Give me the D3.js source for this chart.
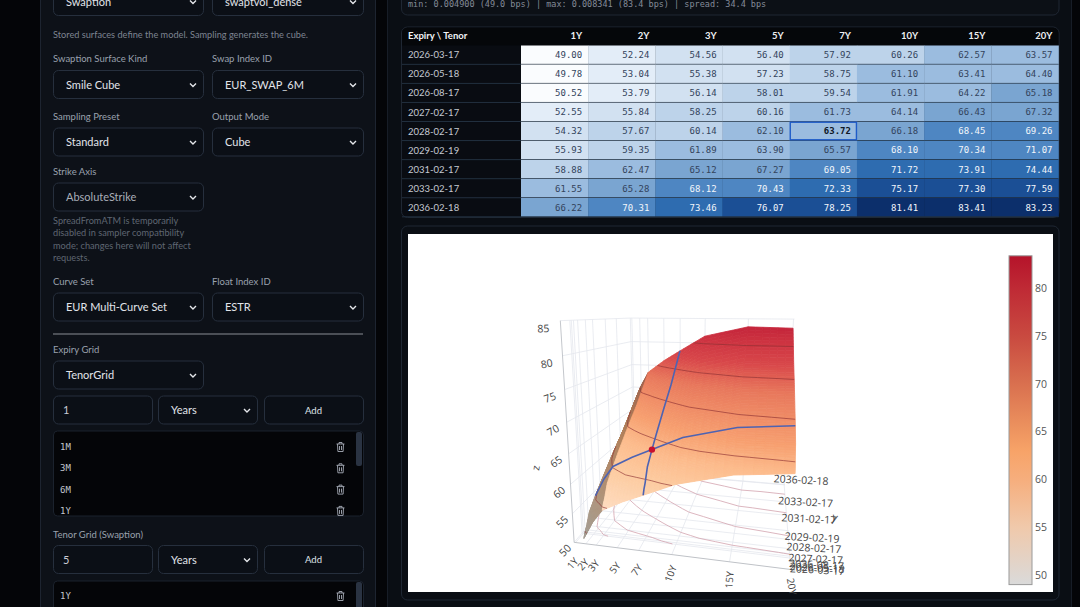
<!DOCTYPE html>
<html><head><meta charset="utf-8">
<script src="https://cdnjs.cloudflare.com/ajax/libs/d3/7.8.5/d3.min.js"></script>
<style>html,body{margin:0;padding:0;background:#040508;overflow:hidden}svg{display:block}</style>
</head><body><svg id="c" width="1080" height="607"></svg>
<script>
const tenorYears=[1,2,3,5,7,10,15,20];
const tenorLabels=["1Y","2Y","3Y","5Y","7Y","10Y","15Y","20Y"];
const expiries=["2026-03-17","2026-05-18","2026-08-17","2027-02-17","2028-02-17","2029-02-19","2031-02-17","2033-02-17","2036-02-18"];
const vols=[
[49.00,52.24,54.56,56.40,57.92,60.26,62.57,63.57],
[49.78,53.04,55.38,57.23,58.75,61.10,63.41,64.40],
[50.52,53.79,56.14,58.01,59.54,61.91,64.22,65.18],
[52.55,55.84,58.25,60.16,61.73,64.14,66.43,67.32],
[54.32,57.67,60.14,62.10,63.72,66.18,68.45,69.26],
[55.93,59.35,61.89,63.90,65.57,68.10,70.34,71.07],
[58.88,62.47,65.12,67.27,69.05,71.72,73.91,74.44],
[61.55,65.28,68.12,70.43,72.33,75.17,77.30,77.59],
[66.22,70.31,73.46,76.07,78.25,81.41,83.41,83.23]];
const zTicks=[50,55,60,65,70,75,80,85];
const barTicks=[50,55,60,65,70,75,80];
const contourLevels=[50,55,60,65,70,75,80];
const selExpiry="2028-02-17", selTenor="7Y";
const statLine="min: 0.004900 (49.0 bps) | max: 0.008341 (83.4 bps) | spread: 34.4 bps";
const expiryGridItems=["1M","3M","6M","1Y"];

const parse=d3.utcParse("%Y-%m-%d");
const dates=expiries.map(parse);
const svg=d3.select("#c");
const SANS="Lato,'Noto Sans',sans-serif", MONO="'DejaVu Sans Mono',monospace", PLOT="'Open Sans',sans-serif";

function rect(x,y,w,h,fill,stroke,r){return svg.append("rect").attr("x",x).attr("y",y).attr("width",w).attr("height",h).attr("fill",fill).attr("stroke",stroke||"none").attr("rx",r||0);}
function text(x,y,s,size,fill,opt){opt=opt||{};return svg.append("text").attr("x",x).attr("y",y).attr("dy",".35em").attr("font-family",opt.font||SANS).attr("font-size",size).attr("fill",fill).attr("font-weight",opt.weight||400).attr("text-anchor",opt.anchor||"start").text(s);}
rect(0,0,1080,607,"#040508");
rect(40.5,-20,335,650,"#0d1118","#1d2430");
rect(387.5,-20,684,650,"#0a0e14","#171d27");

function chevron(x,y){svg.append("path").attr("d",`M${x-3},${y-1.5}L${x},${y+1.5}L${x+3},${y-1.5}`).attr("fill","none").attr("stroke","#e5e7eb").attr("stroke-width",1.4);}
function selectBox(x,y,w,value,col){rect(x+.5,y+.5,w,28,"#0b0f16","#262f3d",5);text(x+13,y+15,value,11,col||"#e1e4ea");chevron(x+w-10,y+15);}
function label(x,y,s){text(x,y,s,9.5,"#9aa1ae");}
function inputBox(x,y,w,v){rect(x+.5,y+.5,w,28,"#0b0f16","#262f3d",5);text(x+10,y+15,v,11,"#c9cdd5");}
function button(x,y,w,s){rect(x+.5,y+.5,w,28,"#0b0f16","#262f3d",5);text(x+w/2,y+15,s,9.5,"#dfe2e8",{anchor:"middle"});}
function trash(x,y){const g=svg.append("g").attr("transform",`translate(${x},${y})`).attr("fill","none").attr("stroke","#a7adb8").attr("stroke-width",.9);
 g.append("path").attr("d","M-4,-3H4M-1.5,-3V-4.5H1.5V-3M-3,-3L-2.6,4.5H2.6L3,-3M-1,-1V3M1,-1V3");}
selectBox(53,-13,150,"Swaption");selectBox(212,-13,151,"swaptvol_dense");
text(53,34.5,"Stored surfaces define the model. Sampling generates the cube.",9.2,"#7d8491");
label(53,59,"Swaption Surface Kind");label(212,59,"Swap Index ID");
selectBox(53,70,150,"Smile Cube");selectBox(212,70,151,"EUR_SWAP_6M");
label(53,117,"Sampling Preset");label(212,117,"Output Mode");
selectBox(53,127.5,150,"Standard");selectBox(212,127.5,151,"Cube");
label(53,172,"Strike Axis");
selectBox(53,182.5,150,"AbsoluteStrike","#a9aeb8");
["SpreadFromATM is temporarily","disabled in sampler compatibility","mode; changes here will not affect","requests."].forEach((s,i)=>text(53,221+i*12.2,s,9.2,"#5f6672"));
label(53,282,"Curve Set");label(212,282,"Float Index ID");
selectBox(53,292.5,150,"EUR Multi-Curve Set");selectBox(212,292.5,151,"ESTR");
svg.append("line").attr("x1",53).attr("x2",363).attr("y1",334).attr("y2",334).attr("stroke","#8a8d93").attr("stroke-width",1.2);
label(53,350,"Expiry Grid");
selectBox(53,360.5,150,"TenorGrid");
inputBox(53,395.5,99,"1");selectBox(158,395.5,99,"Years");button(264,395.5,99,"Add");
rect(53.5,431,310,85,"#040508","#1b222d",4);
rect(356,432,6,34,"#2a3342",null,2);
expiryGridItems.forEach((s,i)=>{text(60,447+i*21.3,s,9,"#c2c6ce",{font:MONO});trash(340.5,447+i*21.3);});
label(53,534.5,"Tenor Grid (Swaption)");
inputBox(53,545,99,"5");selectBox(158,545,99,"Years");button(264,545,99,"Add");
rect(53.5,581,310,50,"#040508","#1b222d",4);
rect(356,582,6,34,"#2a3342",null,2);
text(60,596,"1Y",9,"#c2c6ce",{font:MONO});trash(340.5,596);

rect(401.5,-15,657.5,30,"#0c1016","#1f2733",6);
text(408,4,statLine,8.5,"#848b98",{font:MONO});

// heat table
const tblX=d3.scaleBand().domain(tenorLabels).range([521,1058.5]);
const tblY=d3.scaleBand().domain(expiries).range([45.5,217]);
const heat=d3.scaleThreshold().domain([51,54,57.5,61,64.5,68,71.5,75,79])
 .range(["#fafcfe","#e3edf8","#d2e1f1","#bdd3ea","#9bbcdf","#7aa5d1","#4e86c2","#2e6cb0","#1b4f95","#0c2f6b"]);
rect(401.5,27,657.5,190.5,"#090c12","#1f2733",6);
svg.append("path").attr("d","M402,45.5V33a5.5,5.5 0 0 1 5.5,-5.5H1053a5.5,5.5 0 0 1 5.5,5.5V45.5Z").attr("fill","#05070a");
text(408,35.5,"Expiry \\ Tenor",9.5,"#f1f3f6",{weight:700});
tenorLabels.forEach(t=>text(tblX(t)+tblX.bandwidth()-6,35.5,t,9.5,"#eef0f3",{weight:700,anchor:"end"}));
expiries.forEach((e,i)=>{
 text(408,tblY(e)+tblY.bandwidth()/2,e,9.5,"#c5c9d1");
 vols[i].forEach((v,j)=>{
  const t=tenorLabels[j],sel=e===selExpiry&&t===selTenor;
  rect(tblX(t),tblY(e),tblX.bandwidth()+.3,tblY.bandwidth(),heat(v));
  text(tblX(t)+tblX.bandwidth()-6,tblY(e)+tblY.bandwidth()/2,v.toFixed(2),9,v>=68?"#f2f6fb":(sel?"#0e1726":"#33435c"),{font:MONO,anchor:"end",weight:sel?700:400});
 });
 svg.append("line").attr("x1",402).attr("x2",1058.5).attr("y1",tblY(e)+tblY.bandwidth()-.2).attr("y2",tblY(e)+tblY.bandwidth()-.2).attr("stroke","#22303f").attr("stroke-width",1);
});
rect(tblX(selTenor)+.5,tblY(selExpiry)+.5,tblX.bandwidth()-1,tblY.bandwidth()-1.5,"none","#1f5cc8").attr("stroke-width",1.4);

rect(401.5,226,657.5,374,"#0a0e14","#1f2733",6);
rect(408,234,645,358,"#fff");

// 3D scales into the unit box, then a perspective camera matrix
const xDom=[0.85,20.1], yDom=[parse("2025-03-01"),parse("2036-03-15")], zDom=[50,85];
const xS=d3.scaleLinear().domain(xDom).range([0,1]);
const yS=d3.scaleUtc().domain(yDom).range([0,1]);
const zS=d3.scaleLinear().domain(zDom).range([0,1]);
const D0=dates[0],D1=dates[8];
const [X0,X1]=xDom,[Y0,Y1]=yDom;
const P=[135.99103,342.60325,-77.39317,574.14672,
         -31.55917,139.03735,-258.06751,542.34693,
         -0.10330,0.44443,-0.11344];
function depth(t,d,z){return P[8]*xS(t)+P[9]*yS(d)+P[10]*zS(z)+1;}
function proj(t,d,z){const u=xS(t),v=yS(d),w=zS(z),h=P[8]*u+P[9]*v+P[10]*w+1;
 return [(P[0]*u+P[1]*v+P[2]*w+P[3])/h,(P[4]*u+P[5]*v+P[6]*w+P[7])/h];}
const line=d3.line();
const chart=svg.append("g");
function seg(a,b,col,wd,op){chart.append("path").attr("d",line([a,b])).attr("fill","none").attr("stroke",col).attr("stroke-width",wd).attr("opacity",op||1);}

const GRID="#e4e7ee";
tenorYears.forEach(t=>{seg(proj(t,Y0,50),proj(t,Y1,50),GRID,.8);seg(proj(t,Y1,50),proj(t,Y1,85),GRID,.8);});
dates.forEach(d=>{seg(proj(X0,d,50),proj(X1,d,50),GRID,.8);seg(proj(X0,d,50),proj(X0,d,85),GRID,.8);});
zTicks.forEach(z=>{seg(proj(X0,Y0,z),proj(X0,Y1,z),GRID,.8);seg(proj(X0,Y1,z),proj(X1,Y1,z),GRID,.8);});
seg(proj(X0,Y0,50),proj(X0,Y0,85),"#c4c7cc",1);
seg(proj(X0,Y0,50),proj(X1,Y0,50),"#bfc2c7",1);

function isoSegments(level){const out=[];
 function tri(a,b,c){const pts=[];[[a,b],[b,c],[c,a]].forEach(([p,q])=>{if((p[2]-level)*(q[2]-level)<0){const f=(level-p[2])/(q[2]-p[2]);
   pts.push([p[0]+f*(q[0]-p[0]),+p[1]+f*(+q[1]-+p[1])]);}});
  if(pts.length===2)out.push(pts);}
 for(let i=0;i<8;i++)for(let j=0;j<7;j++){
  const a=[tenorYears[j],+dates[i],vols[i][j]],b=[tenorYears[j+1],+dates[i],vols[i][j+1]],
        c=[tenorYears[j+1],+dates[i+1],vols[i+1][j+1]],d=[tenorYears[j],+dates[i+1],vols[i+1][j]];
  tri(a,b,c);tri(a,c,d);}
 return out;}
contourLevels.forEach(l=>isoSegments(l).forEach(([p,q])=>seg(proj(p[0],new Date(p[1]),50),proj(q[0],new Date(q[1]),50),"#d3a3ae",.8)));

const colorDom=[49,55,60,63,65,70,75,80,83.41];
const colorRng=["#dadada","#f0c9ab","#f6ae7d","#f7a368","#ee9560","#d9704f","#c94a40","#bf2a35","#b5132a"];
const surfS=d3.scaleLinear().domain([49,55,60,63.5,66.8,73,77,83.41])
 .range(["#d9cfc5","#fedcc0","#fdcba0","#fcbb8c","#f7a070","#e8785c","#d8474a","#c4243a"]);
const colorS=d3.scaleLinear().domain(colorDom).range(colorRng);
const SUBA=10,SUBB=6,quads=[];
for(let i=0;i<8;i++)for(let j=0;j<7;j++){
 const slope=(vols[i][j+1]-vols[i][j])/(tenorYears[j+1]-tenorYears[j]);
 const steep=slope>2;
 for(let a=0;a<SUBA;a++)for(let b=0;b<SUBB;b++){
 const at=(fa,fb)=>{const t=tenorYears[j]+(tenorYears[j+1]-tenorYears[j])*fb;
   const d=new Date(+dates[i]+(+dates[i+1]-+dates[i])*fa);
   const z=(1-fa)*((1-fb)*vols[i][j]+fb*vols[i][j+1])+fa*((1-fb)*vols[i+1][j]+fb*vols[i+1][j+1]);return [t,d,z];};
 const c=[at(a/SUBA,b/SUBB),at(a/SUBA,(b+1)/SUBB),at((a+1)/SUBA,(b+1)/SUBB),at((a+1)/SUBA,b/SUBB)];
 const poly=c.map(q=>proj(...q));const m=at((a+.5)/SUBA,(b+.5)/SUBB);
 const col=steep?d3.interpolateRgb(colorS(m[2]),"#6d6353")(.5):surfS(m[2]);
 quads.push({poly,col,dep:depth(...m)});
}}
const farSign=Math.sign(depth(7,D1,60)-depth(7,D0,60));
quads.sort((p,q)=>farSign*(q.dep-p.dep));
chart.append("g").selectAll("path").data(quads).join("path")
 .attr("d",q=>line(q.poly)+"Z").attr("fill",q=>q.col).attr("stroke",q=>q.col).attr("stroke-width",.8);
contourLevels.forEach(l=>isoSegments(l).forEach(([p,q])=>
 seg(proj(p[0],new Date(p[1]),l),proj(q[0],new Date(q[1]),l),"#8c2f33",.8,.8)));

const si=expiries.indexOf(selExpiry),sj=tenorLabels.indexOf(selTenor);
const BLUE="#4d63b3";
chart.append("path").attr("d",line(tenorYears.map((t,j)=>proj(t,dates[si],vols[si][j])))).attr("fill","none").attr("stroke",BLUE).attr("stroke-width",1.6);
chart.append("path").attr("d",line(dates.map((d,i)=>proj(tenorYears[sj],d,vols[i][sj])))).attr("fill","none").attr("stroke",BLUE).attr("stroke-width",1.6);
const mk=proj(tenorYears[sj],dates[si],vols[si][sj]);
chart.append("circle").attr("cx",mk[0]).attr("cy",mk[1]).attr("r",3.2).attr("fill","#c8102e");

function rot(x,y,s,ang,size,col){chart.append("text").attr("transform",`translate(${x},${y}) rotate(${ang})`).attr("text-anchor","middle").attr("dy",".35em")
 .attr("font-family",PLOT).attr("font-size",size).attr("fill",col||"#444").text(s);}
const tenorAngles=[-48,-48,-50,-52,-55,-70,-85,80];
tenorYears.forEach((t,j)=>{const p=proj(t,Y0,50),f=xS(t);rot(p[0]-3+4*f,p[1]+21-4*f,tenorLabels[j],tenorAngles[j],10);});
dates.forEach((d,i)=>{const p=proj(X1,d,50),f=1-yS(d);rot(p[0]+16+11.5*f,p[1]-5+18.5*f,expiries[i],3,10.5);});
const zAngles=[-45,-45,-40,-35,-30,-20,-10,-2];
zTicks.forEach((z,i)=>{const p=proj(X0,Y0,z),f=zS(z);rot(p[0]-9-8*f,p[1]+8,z,zAngles[i],10.5);});
rot(535.7,468,"z",-80,10.5);
rot(835,517,"y",15,10.5);

const barY=d3.scaleLinear().domain([49,83.41]).range([584.6,255.8]);
const defs=svg.append("defs").append("linearGradient").attr("id","cb").attr("x1",0).attr("x2",0).attr("y1",1).attr("y2",0);
colorDom.forEach((v,i)=>defs.append("stop").attr("offset",(v-49)/(83.41-49)).attr("stop-color",colorRng[i]));
rect(1009,barY(83.41),23,barY(49)-barY(83.41),"url(#cb)","#9a9a9a");
barTicks.forEach(v=>rot(1041,barY(v),v,0,10.5,"#555"));
</script></body></html>
